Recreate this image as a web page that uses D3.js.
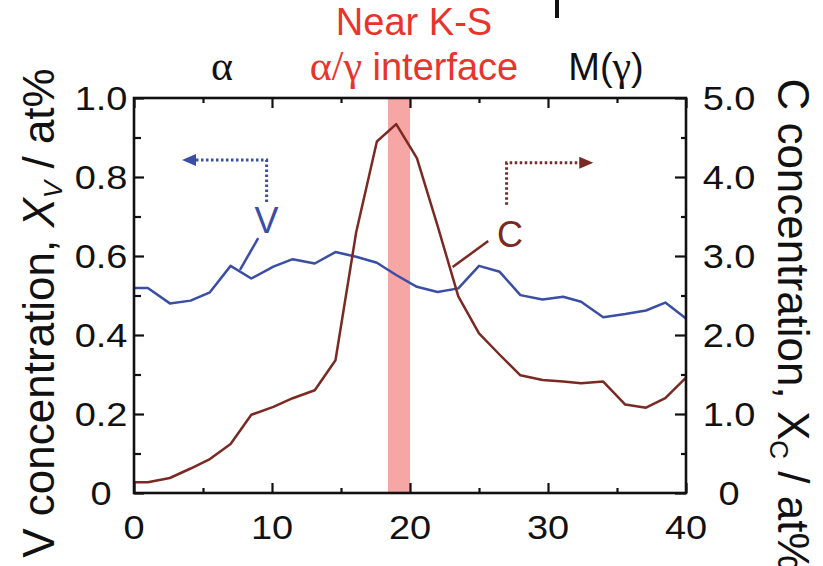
<!DOCTYPE html>
<html><head><meta charset="utf-8">
<script src="https://cdn.jsdelivr.net/npm/d3@7"></script>
<style>
body{margin:0;background:#fff;}
svg{display:block;font-family:"Liberation Sans",Arial,sans-serif;}
</style></head>
<body><svg id="c" width="823" height="566"></svg>
<script>
// distance (x axis) positions of data points
const positions = [0,1.0,2.6,4.1,5.5,7.0,8.5,10.1,11.5,13.1,14.6,16.1,17.6,19.0,20.5,22.0,23.5,25.0,26.5,28.0,29.6,31.1,32.4,34.0,35.6,37.1,38.5,40.0];
// V concentration (at%), left axis
const vValues = [0.519,0.519,0.480,0.487,0.508,0.575,0.543,0.573,0.592,0.581,0.610,0.598,0.583,0.552,0.522,0.509,0.518,0.575,0.560,0.501,0.490,0.497,0.484,0.445,0.453,0.462,0.482,0.442];
// C concentration (at%), right axis
const cValues = [0.135,0.135,0.19,0.31,0.43,0.62,0.99,1.09,1.20,1.30,1.68,3.30,4.45,4.67,4.24,3.38,2.49,2.02,1.75,1.49,1.43,1.41,1.39,1.41,1.12,1.08,1.20,1.46];
// interface band
const bandRange = [18.4, 20.0];
const xTicks = [0,10,20,30,40];
const xTickLabels = ["0","10","20","30","40"];
const xMinor = [5,15,25,35];
const leftTicks = [0,0.2,0.4,0.6,0.8,1.0];
const leftTickLabels = ["0","0.2","0.4","0.6","0.8","1.0"];
const leftMinor = [0.1,0.3,0.5,0.7,0.9];
const rightTicks = [0,1,2,3,4,5];
const rightTickLabels = ["0","1.0","2.0","3.0","4.0","5.0"];
const rightMinor = [0.5,1.5,2.5,3.5,4.5];

const blue = "#3a4ea3", brown = "#7a2923", pink = "#f7a6a6", red = "#e8342c";
const serif = "'Liberation Serif','Times New Roman',serif";
const M = {l:134, t:98, w:552, h:395};
const svg = d3.select("#c");
const x = d3.scaleLinear().domain([0,40]).range([M.l, M.l+M.w]);
const yL = d3.scaleLinear().domain([0,1]).range([M.t+M.h, M.t]);
const yR = d3.scaleLinear().domain([0,5]).range([M.t+M.h, M.t]);

// band
svg.append("rect").attr("x", x(bandRange[0])).attr("y", M.t)
  .attr("width", x(bandRange[1])-x(bandRange[0])).attr("height", M.h).attr("fill", pink);

// lines
const vLine = d3.line().x((d,i)=>x(positions[i])).y(d=>yL(d));
const cLine = d3.line().x((d,i)=>x(positions[i])).y(d=>yR(d));
svg.append("path").datum(vValues).attr("d", vLine).attr("fill","none").attr("stroke",blue).attr("stroke-width",2.5).attr("stroke-linejoin","round");
svg.append("path").datum(cValues).attr("d", cLine).attr("fill","none").attr("stroke",brown).attr("stroke-width",2.5).attr("stroke-linejoin","round");

// axes (inward ticks)
function ax(gen, ticks, size){
  return gen.tickValues(ticks).tickSize(size).tickFormat("");
}
const axisStyle = g => { g.select(".domain").remove(); g.selectAll("line").attr("stroke","#111").attr("stroke-width",2.2); };
const B = M.t+M.h, R = M.l+M.w;
svg.append("g").attr("transform",`translate(0,${B})`).call(ax(d3.axisBottom(x),xTicks,-10)).call(axisStyle);
svg.append("g").attr("transform",`translate(0,${B})`).call(ax(d3.axisBottom(x),xMinor,-5)).call(axisStyle);
svg.append("g").attr("transform",`translate(0,${M.t})`).call(ax(d3.axisTop(x),xTicks,-10)).call(axisStyle);
svg.append("g").attr("transform",`translate(0,${M.t})`).call(ax(d3.axisTop(x),xMinor,-5)).call(axisStyle);
svg.append("g").attr("transform",`translate(${M.l},0)`).call(ax(d3.axisLeft(yL),leftTicks,-10)).call(axisStyle);
svg.append("g").attr("transform",`translate(${M.l},0)`).call(ax(d3.axisLeft(yL),leftMinor,-7)).call(axisStyle);
svg.append("g").attr("transform",`translate(${R},0)`).call(ax(d3.axisRight(yR),rightTicks,-11)).call(axisStyle);
svg.append("g").attr("transform",`translate(${R},0)`).call(ax(d3.axisRight(yR),rightMinor,-5)).call(axisStyle);
// frame
svg.append("rect").attr("x",M.l).attr("y",M.t).attr("width",M.w).attr("height",M.h)
  .attr("fill","none").attr("stroke","#111").attr("stroke-width",2.6);

// tick labels (slightly wide lettering)
const tfs = 33, sx = 1.15;
function lab(px, py, t){
  svg.append("text").attr("transform",`translate(${px},${py}) scale(${sx},1)`)
    .attr("text-anchor","middle").attr("dy","0.36em").attr("font-size",tfs).attr("fill","#111").text(t);
}
xTicks.forEach((v,i)=>lab(x(v), 527, xTickLabels[i]));
leftTicks.forEach((v,i)=>lab(101, yL(v), leftTickLabels[i]));
rightTicks.forEach((v,i)=>lab(729, yR(v), rightTickLabels[i]));

// axis titles
const lt = svg.append("text").attr("transform",`translate(54,${313}) rotate(-90)`).attr("text-anchor","middle")
  .attr("font-size",44).attr("fill","#111");
lt.append("tspan").text("V concentration, ");
lt.append("tspan").attr("font-style","italic").text("X");
lt.append("tspan").attr("font-size",26).attr("dy",8).attr("font-style","italic").text("V");
lt.append("tspan").attr("dy",-8).text(" / at%");
const rt = svg.append("text").attr("transform",`translate(778,${325}) rotate(90)`).attr("text-anchor","middle")
  .attr("font-size",44).attr("fill","#111");
rt.append("tspan").text("C concentration, X");
rt.append("tspan").attr("font-size",26).attr("dy",8).text("C");
rt.append("tspan").attr("dy",-8).text(" / at%");

// top labels
svg.append("text").attr("x",414).attr("y",35).attr("text-anchor","middle").attr("font-size",38).attr("fill",red).text("Near K-S");
const ig = svg.append("text").attr("x",414).attr("y",80).attr("text-anchor","middle").attr("font-size",38).attr("fill",red);
ig.append("tspan").attr("font-family",serif).attr("font-size",42).text("α/γ");
ig.append("tspan").text(" interface");
svg.append("text").attr("x",222).attr("y",80).attr("text-anchor","middle").attr("font-size",42).attr("font-family",serif).attr("fill","#111").text("α");
const mg = svg.append("text").attr("x",606).attr("y",80).attr("text-anchor","middle").attr("font-size",38).attr("fill","#111");
mg.append("tspan").text("M(");
mg.append("tspan").attr("font-family",serif).attr("font-size",42).text("γ");
mg.append("tspan").text(")");
// clipped fragment at top
svg.append("line").attr("x1",557).attr("x2",557).attr("y1",0).attr("y2",18).attr("stroke","#111").attr("stroke-width",4);

// series annotations
svg.append("text").attr("x",x(9.6)).attr("y",yL(0.658)).attr("text-anchor","middle").attr("font-size",36).attr("fill",blue).text("V");
svg.append("line").attr("x1",x(9.0)).attr("y1",yL(0.645)).attr("x2",x(7.68)).attr("y2",yL(0.565)).attr("stroke",blue).attr("stroke-width",2.5);
svg.append("path").attr("d",`M${x(9.61)},${yL(0.737)}V${yL(0.843)}H${x(3.48)+12}`)
  .attr("fill","none").attr("stroke",blue).attr("stroke-width",3).attr("stroke-dasharray","2.5,2.5");
svg.append("path").attr("d",`M${x(3.48)},${yL(0.843)}l14,-6v12z`).attr("fill",blue);

svg.append("text").attr("x",x(27.25)).attr("y",yR(3.11)).attr("text-anchor","middle").attr("font-size",36).attr("fill",brown).text("C");
svg.append("line").attr("x1",x(25.67)).attr("y1",yR(3.19)).attr("x2",x(23.09)).attr("y2",yR(2.86)).attr("stroke",brown).attr("stroke-width",2.5);
svg.append("path").attr("d",`M${x(27.0)},${yR(3.65)}V${yR(4.18)}H${x(33.28)-12}`)
  .attr("fill","none").attr("stroke",brown).attr("stroke-width",3).attr("stroke-dasharray","2.5,2.5");
svg.append("path").attr("d",`M${x(33.28)},${yR(4.18)}l-14,-6v12z`).attr("fill",brown);
</script></body></html>
